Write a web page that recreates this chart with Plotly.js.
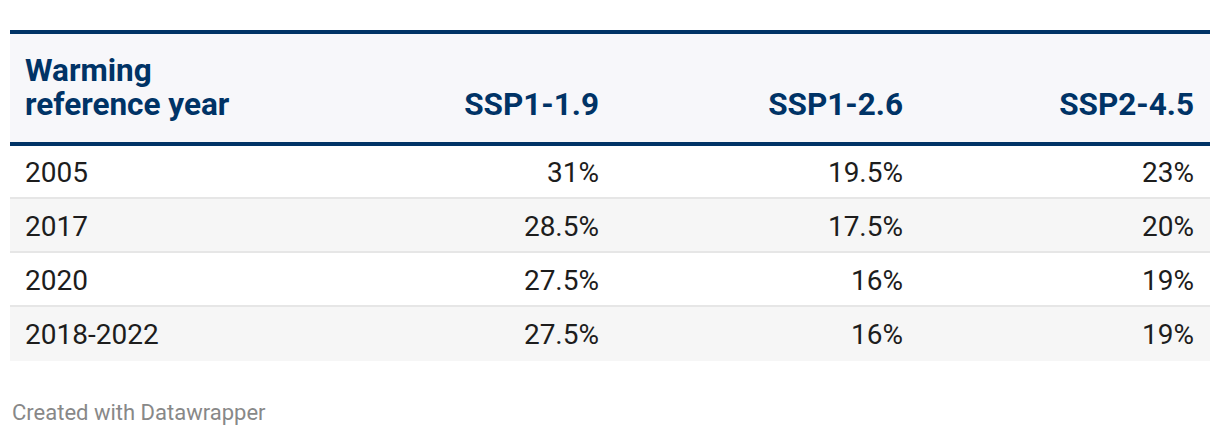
<!DOCTYPE html>
<html>
<head>
<meta charset="utf-8">
<script src="https://cdn.plot.ly/plotly-3.0.1.min.js"></script>
<style>html,body{margin:0;padding:0;background:#fff;}#chart{width:1220px;height:436px;}</style>
</head>
<body>
<div id="chart"></div>
<script>
// ---- data ----
var firstHeaderLines = ['Warming', 'reference year'];
var scenarioLabels = ['SSP1-1.9', 'SSP1-2.6', 'SSP2-4.5'];
var referenceYears = ['2005', '2017', '2020', '2018-2022'];
var ssp119 = [31, 28.5, 27.5, 27.5];
var ssp126 = [19.5, 17.5, 16, 16];
var ssp245 = [23, 20, 19, 19];
var footerText = 'Created with Datawrapper';

// ---- styling / layout ----
var W = 1220, H = 436;
var navy = '#003366';
var headerBg = '#f7f7fa';
var stripe = '#f6f6f6';
var sep = '#e6e6e6';
var clear = 'rgba(0,0,0,0)';
var tableLeft = 17, tableRight = 1202;
var textTop = 49.4;          // table trace top (text anchor)
var headRowH = 34.4, rowH = 54;
var nRows = referenceYears.length;

function px(x) { return x / W; }
function py(y) { return 1 - y / H; }

// header: three stacked header rows; scenario labels sit on the second line
var headerVals = [firstHeaderLines.concat([''])].concat(
  scenarioLabels.map(function (s) { return ['', s, '']; })
);

var trace = {
  type: 'table',
  domain: { x: [px(tableLeft), px(tableRight)], y: [py(400), py(textTop)] },
  columnwidth: [300, 290, 304, 291],
  header: {
    values: headerVals,
    align: ['left', 'right', 'right', 'right'],
    height: headRowH,
    fill: { color: clear },
    line: { width: 0, color: clear },
    font: { family: 'Roboto', size: 31.5, color: navy, weight: 'bold' }
  },
  cells: {
    values: [referenceYears, ssp119, ssp126, ssp245],
    suffix: ['', '%', '%', '%'],
    align: ['left', 'right', 'right', 'right'],
    height: rowH,
    fill: { color: clear },
    line: { width: 0, color: clear },
    font: { family: 'Roboto', size: 28, color: '#1d1d1d' }
  }
};

// visual bands
var headTop = 34, headBottom = 142, bodyTop = 145;
var shapes = [];
shapes.push({ type: 'rect', layer: 'below', xref: 'paper', yref: 'paper', x0: px(10), x1: px(1210), y0: py(headBottom), y1: py(headTop), fillcolor: headerBg, line: { width: 0 } });
for (var i = 0; i < nRows; i++) {
  var t = bodyTop + rowH * i;
  shapes.push({ type: 'rect', layer: 'below', xref: 'paper', yref: 'paper', x0: px(10), x1: px(1210), y0: py(t + rowH), y1: py(t), fillcolor: i % 2 === 0 ? '#ffffff' : stripe, line: { width: 0 } });
}
for (var j = 1; j < nRows; j++) {
  var ys = bodyTop + rowH * j - 1;
  shapes.push({ type: 'line', layer: 'above', xref: 'paper', yref: 'paper', x0: px(10), x1: px(1210), y0: py(ys), y1: py(ys), line: { color: sep, width: 2 } });
}
shapes.push({ type: 'line', layer: 'above', xref: 'paper', yref: 'paper', x0: px(10), x1: px(1210), y0: py(32), y1: py(32), line: { color: navy, width: 4 } });
shapes.push({ type: 'line', layer: 'above', xref: 'paper', yref: 'paper', x0: px(10), x1: px(1210), y0: py(144), y1: py(144), line: { color: navy, width: 4 } });

var layout = {
  width: W, height: H,
  margin: { l: 0, r: 0, t: 0, b: 0 },
  paper_bgcolor: '#ffffff',
  shapes: shapes,
  annotations: [{
    text: footerText, xref: 'paper', yref: 'paper', x: px(10), y: py(412),
    xanchor: 'left', yanchor: 'middle', showarrow: false,
    font: { family: 'Roboto', size: 22, color: '#888888' }
  }]
};

Plotly.newPlot('chart', [trace], layout, { displayModeBar: false, staticPlot: true });
</script>
</body>
</html>
